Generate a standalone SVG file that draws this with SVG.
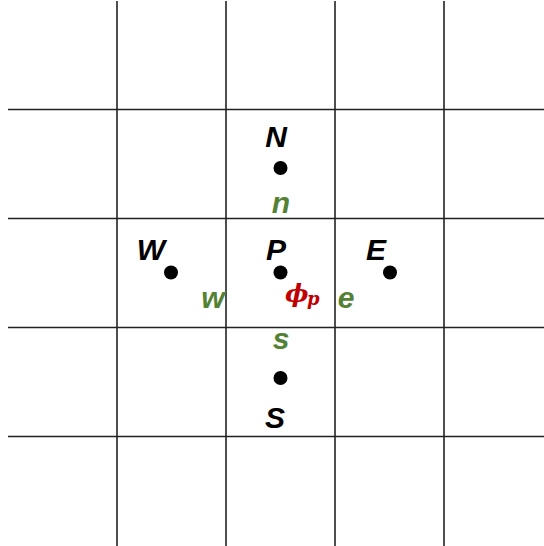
<svg xmlns="http://www.w3.org/2000/svg" width="544" height="546" viewBox="0 0 544 546">
<style>
.g{stroke:#222;stroke-width:1.6;fill:none}
.lb{font-family:"Liberation Sans",Arial,sans-serif;font-weight:bold;font-style:italic;font-size:30px;text-anchor:middle;fill:#000}
.gr{font-family:"Liberation Sans",Arial,sans-serif;font-weight:bold;font-style:italic;font-size:30px;text-anchor:middle;fill:#548235}
.ph{font-family:"DejaVu Serif","Liberation Serif",serif;font-style:italic;font-weight:bold;fill:#c00000}
.d{fill:#000}
</style>
<rect width="544" height="546" fill="#fff"/>
<g id="grid" class="g">
<line x1="117" y1="1" x2="117" y2="546"/>
<line x1="226" y1="1" x2="226" y2="546"/>
<line x1="335" y1="1" x2="335" y2="546"/>
<line x1="444" y1="1" x2="444" y2="546"/>
<line x1="8" y1="109.5" x2="544" y2="109.5"/>
<line x1="8" y1="218.5" x2="544" y2="218.5"/>
<line x1="8" y1="327.5" x2="544" y2="327.5"/>
<line x1="8" y1="436.5" x2="544" y2="436.5"/>
</g>
<g id="N"><circle class="d" cx="280.5" cy="168" r="7"/><text class="lb" x="276" y="147">N</text></g>
<g id="P"><circle class="d" cx="280.5" cy="272.5" r="7"/><text class="lb" x="276" y="260">P</text></g>
<g id="W"><circle class="d" cx="171" cy="272.5" r="7"/><text class="lb" x="151" y="260">W</text></g>
<g id="E"><circle class="d" cx="390" cy="272.5" r="7"/><text class="lb" x="376" y="260">E</text></g>
<g id="S"><circle class="d" cx="280.5" cy="378" r="7"/><text class="lb" x="275" y="428">S</text></g>
<g id="n"><text class="gr" x="281" y="213">n</text></g>
<g id="s"><text class="gr" x="281" y="349">s</text></g>
<g id="w"><text class="gr" x="213" y="308">w</text></g>
<g id="e"><text class="gr" x="346" y="308">e</text></g>
<g id="phi"><text class="ph" x="285" y="302" font-size="25">ϕ</text><text class="ph" x="307" y="305" font-size="18">p</text></g>
</svg>
